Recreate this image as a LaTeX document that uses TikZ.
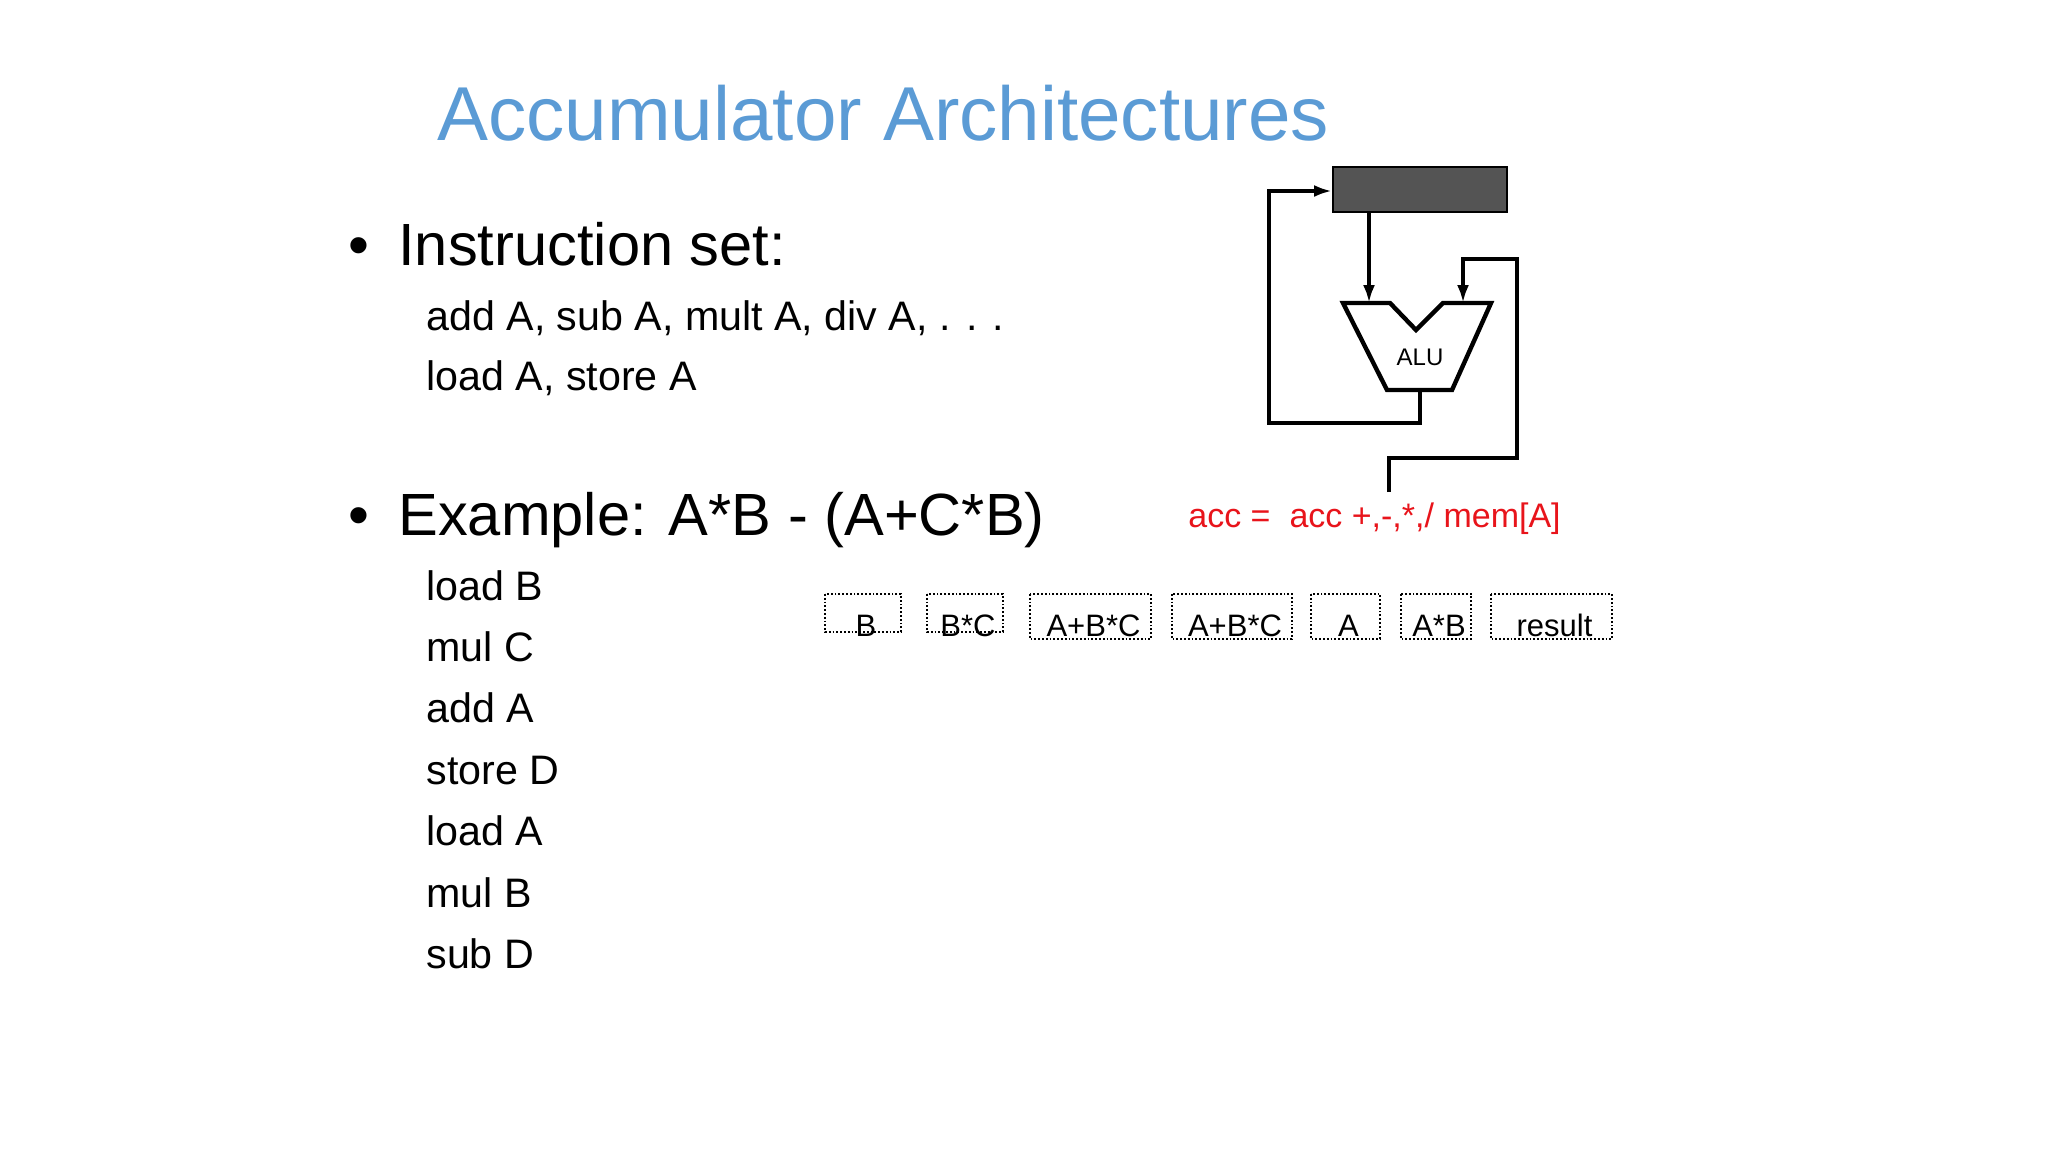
\documentclass[tikz,border=0pt]{standalone}
\usepackage{fontspec}
\setmainfont{Liberation Sans}
\usetikzlibrary{arrows.meta}
\definecolor{titleblue}{HTML}{5B9BD5}
\definecolor{accred}{HTML}{E8141B}
\begin{document}
\begin{tikzpicture}[x=0.5pt,y=-0.5pt,
  txt/.style={anchor=base west,inner sep=0pt},
  wire/.style={line width=2.2pt,line join=miter},
  arr/.style={wire,-{Latex[length=9pt,width=6pt]}},
  vbox/.style={draw,densely dotted,line width=0.9pt,inner sep=0pt}]
\useasboundingbox (0,0) rectangle (2048,1152);
\node[txt,font=\fontsize{38.2}{45}\selectfont,text=titleblue] (title) at (437,140) {Accumulator Architectures};
\node[txt,font=\fontsize{29.8}{36}\selectfont] (b1) at (348,265) {•};
\node[txt,font=\fontsize{29.8}{36}\selectfont] (h1) at (398,265) {Instruction set:};
\node[txt,font=\fontsize{20.6}{25}\selectfont] (l1) at (426,330) {add A, sub A, mult A, div A, . . .};
\node[txt,font=\fontsize{20.6}{25}\selectfont] (l2) at (426,390) {load A, store A};
\node[txt,font=\fontsize{29.8}{36}\selectfont] (b2) at (348,535) {•};
\node[txt,font=\fontsize{29.8}{36}\selectfont] (h2) at (398,535) {Example: A*B - (A+C*B)};
\foreach \t [count=\i from 0] in {load B,mul C,add A,store D,load A,mul B,sub D}
  \node[txt,font=\fontsize{20.6}{25}\selectfont] (e\i) at (426,{600+61.4*\i}) {\t};
% diagram
\node[draw,fill=black!67,line width=1pt,minimum width=87pt,minimum height=22.5pt,inner sep=0pt] (acc) at (1420,189.5) {};
\draw[wire] (1343,303) -- (1390,303) -- (1416,330) -- (1443,303) -- (1491,303) -- (1452,390) -- (1387,390) -- cycle;
\node[font=\fontsize{12}{14}\selectfont] (alu) at (1420,357) {ALU};
\coordinate (aluL) at (1369,303);
\coordinate (aluR) at (1463,303);
\coordinate (aluB) at (1420,390);
\coordinate (memin) at (1389,492);
\draw[arr] (acc.south -| aluL) -- (aluL);
\draw[arr] (aluB) -- (1420,423) -- (1269,423) -- (1269,191) -- (acc.west |- 0,191);
\draw[arr] (memin) -- (1389,458) -- (1517,458) -- (1517,259) -- (1463,259) -- (aluR);
\node[txt,font=\fontsize{17}{20}\selectfont,text=accred] (eq) at (1188,527) {acc =\ \ acc +,-,*,/ mem[A]};
% value boxes
\foreach \n/\xa/\xb/\yb/\t in {v1/825/901/632/B,v2/927/1003/632/B*C,v3/1030/1151/639/A+B*C,v4/1172/1292/639/A+B*C,v5/1311/1380/639/A,v6/1401/1471/639/A*B,v7/1491/1612/639/result}{
  \draw[vbox] (\xa,594) rectangle (\xb,\yb);
  \node[anchor=base,inner sep=0pt,font=\fontsize{15.5}{18}\selectfont] (\n) at ({(\xa+\xb)/2+3},636) {\t};
}
\end{tikzpicture}
\end{document}
